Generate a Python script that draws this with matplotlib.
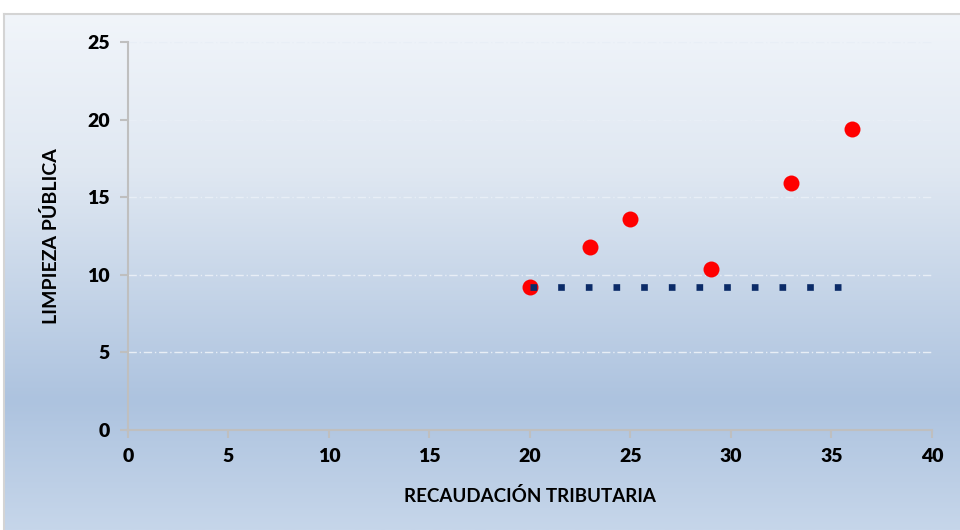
import numpy as np
import matplotlib
matplotlib.use("Agg")
import matplotlib.pyplot as plt
from matplotlib.colors import LinearSegmentedColormap

# data
recaudacion = [20, 23, 25, 29, 33, 36]
limpieza = [9.2, 11.8, 13.6, 10.4, 15.9, 19.4]
linea_x = [20, 35.5]
linea_y = [9.2, 9.2]
xticks = [0, 5, 10, 15, 20, 25, 30, 35, 40]
yticks = [0, 5, 10, 15, 20, 25]

plt.rcParams['font.family'] = ['Lato', 'DejaVu Sans']

fig = plt.figure(figsize=(9.6, 5.3), dpi=100)
fig.patch.set_facecolor('white')

# gradient background of the chart area
bg = fig.add_axes([0.004, 0.0, 0.996, 0.974])
cmap = LinearSegmentedColormap.from_list('bg', [
    (0.0, '#f1f5fa'), (0.3, '#e0e8f2'), (0.75, '#adc3df'), (1.0, '#c6d6ea')])
grad = np.linspace(0, 1, 256).reshape(-1, 1)
bg.imshow(grad, aspect='auto', cmap=cmap, extent=[0, 1, 0, 1])
bg.set_xticks([])
bg.set_yticks([])
for s in bg.spines.values():
    s.set_color('#d4d4d4')
    s.set_linewidth(1.5)
bg.spines['bottom'].set_visible(False)
bg.spines['right'].set_visible(False)

ax = fig.add_axes([0.1333, 0.1887, 0.8375, 0.7321])
ax.set_facecolor('none')
ax.set_xlim(0, 40)
ax.set_ylim(0, 25)
ax.set_xticks(xticks)
ax.set_yticks(yticks)

for y in yticks[1:]:
    ax.axhline(y, color='#e8eef6', lw=1.0, ls=(0, (6, 2, 1, 2)), zorder=1)

ax.plot(linea_x, linea_y, color='#0b2b68', lw=4.8, ls=(0, (1, 3.15)),
        dash_capstyle='butt', zorder=3)
ax.plot(recaudacion, limpieza, 'o', color='#ff0000', ms=11.5,
        markeredgewidth=0, zorder=2)

for side in ['top', 'right']:
    ax.spines[side].set_visible(False)
for side in ['left', 'bottom']:
    ax.spines[side].set_color('#bfbfbf')
    ax.spines[side].set_linewidth(1.5)
ax.tick_params(axis='both', direction='out', length=6, width=1.5,
               color='#bfbfbf', labelsize=14, pad=7)
for lab in ax.get_xticklabels() + ax.get_yticklabels():
    lab.set_fontweight('heavy')

ax.set_xlabel('RECAUDACIÓN TRIBUTARIA', fontsize=13.5, fontweight='bold', labelpad=16)
ax.set_ylabel('LIMPIEZA PÚBLICA', fontsize=14, fontweight='bold', labelpad=20)

fig.savefig('out.png', dpi=100)
